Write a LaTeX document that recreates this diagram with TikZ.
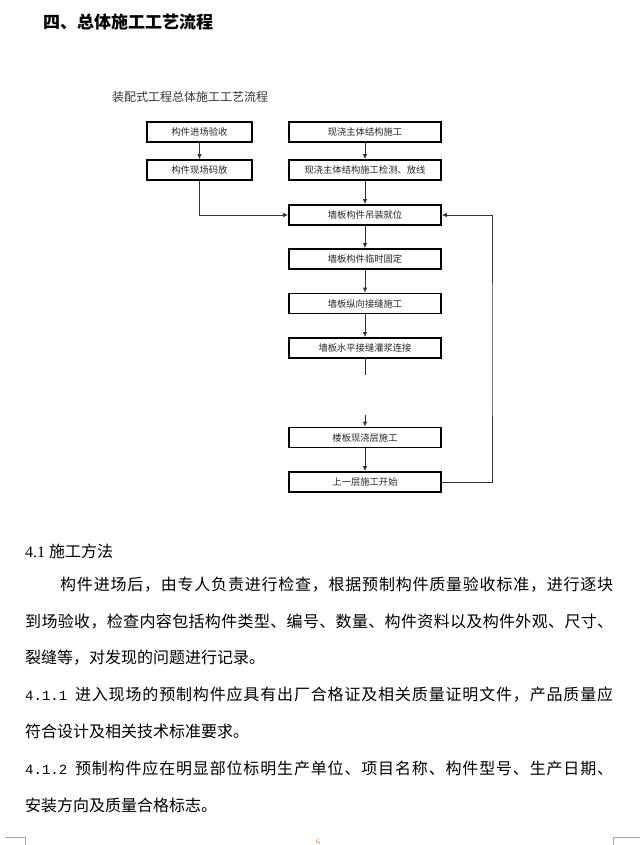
\documentclass[tikz,border=0pt]{standalone}
\usepackage{fontspec}
\setmainfont{Liberation Serif}
\newfontfamily\cjk{Noto Sans CJK SC}
\newfontfamily\monof{Liberation Mono}
\usetikzlibrary{arrows.meta}
\def\spreadA#1{#1\spreadB}
\def\spreadB#1{\ifx\relax#1\else\hfill#1\expandafter\spreadB\fi}
\newcommand\jline[2]{\makebox[#1][s]{\spreadA#2\relax}}
\newcommand\secnum[1]{\mbox{\monof\fontsize{14}{14}\selectfont #1\hspace{7pt}}}
\tikzset{
  flowbox/.style={draw=black, line width=1.8pt, minimum height=20, inner sep=0pt,
    font=\cjk\fontsize{9.3}{10}\selectfont, text=black!85},
  wide/.style={flowbox, minimum width=152},
  narrow/.style={flowbox, minimum width=105},
  conn/.style={draw=black!80, line width=0.8pt},
  arr/.style={conn, -{Latex[length=5pt,width=4.5pt]}},
  body/.style={anchor=west, inner sep=0pt, font=\cjk\fontsize{16}{16}\selectfont},
  cornermark/.style={draw=black!35, line width=0.6pt}
}
\begin{document}
\begin{tikzpicture}[x=1pt,y=-1pt]
\useasboundingbox (0,0) rectangle (640,845);
\fill[white] (0,0) rectangle (640,845);
% title
\node[anchor=west, inner sep=0pt] (title) at (43,22) {\cjk\bfseries\fontsize{17}{17}\selectfont 四、总体施工工艺流程};
\node[anchor=west, inner sep=0pt, text=black!80] (sub) at (112,97) {\cjk\fontsize{12}{12}\selectfont 装配式工程总体施工工艺流程};
% boxes
\node[narrow] (A) at (199.5,132) {构件进场验收};
\node[narrow] (C) at (199.5,170) {构件现场码放};
\node[wide] (B) at (365,132) {现浇主体结构施工};
\node[wide] (D) at (365,170) {现浇主体结构施工检测、放线};
\node[wide] (E) at (365,215) {墙板构件吊装就位};
\node[wide] (F) at (365,259) {墙板构件临时固定};
\node[wide] (G) at (365,303.5) {墙板纵向接缝施工};
\node[wide] (H) at (365,348) {墙板水平接缝灌浆连接};
\node[wide] (I) at (365,437.5) {楼板现浇层施工};
\node[wide] (J) at (365,482) {上一层施工开始};
% connectors
\draw[arr] (A) -- (C);
\draw[arr] (B) -- (D);
\draw[arr] (D) -- (E);
\draw[arr] (C.south) |- (E.west);
\draw[arr] (E) -- (F);
\draw[arr] (F) -- (G);
\draw[arr] (G) -- (H);
\coordinate (g1) at (365,375);
\coordinate (g2) at (365,415);
\draw[conn] (H.south) -- (g1);
\draw[arr] (g2) -- (I.north);
\draw[arr] (I) -- (J);
\coordinate (ret) at (492,350);
\draw[arr] (J.east) -| (ret) |- (E.east);
% text
\node[anchor=west, inner sep=0pt] (h41) at (25,551) {\fontsize{16}{16}\selectfont 4.1 {\cjk 施工方法}};
\node[body] (p1) at (60,585) {\jline{553pt}{构件进场后，由专人负责进行检查，根据预制构件质量验收标准，进行逐块}};
\node[body] (p2) at (25,621.5) {\jline{588pt}{到场验收，检查内容包括构件类型、编号、数量、构件资料以及构件外观、尺寸、}};
\node[body] (p3) at (25,658) {裂缝等，对发现的问题进行记录。};
\node[body] (p4) at (25,695) {\jline{588pt}{{\secnum{4.1.1}}进入现场的预制构件应具有出厂合格证及相关质量证明文件，产品质量应}};
\node[body] (p5) at (25,731.5) {符合设计及相关技术标准要求。};
\node[body] (p6) at (25,768) {\jline{588pt}{{\secnum{4.1.2}}预制构件应在明显部位标明生产单位、项目名称、构件型号、生产日期、}};
\node[body] (p7) at (25,805) {安装方向及质量合格标志。};
% page marks
\node[inner sep=0pt, text=orange!70!brown] (pg) at (318,842) {\fontsize{8}{8}\selectfont 6};
\draw[cornermark] (5,837.5) -- (25,837.5) -- (25,845);
\draw[cornermark] (640,837.5) -- (613,837.5) -- (613,845);
\end{tikzpicture}
\end{document}
